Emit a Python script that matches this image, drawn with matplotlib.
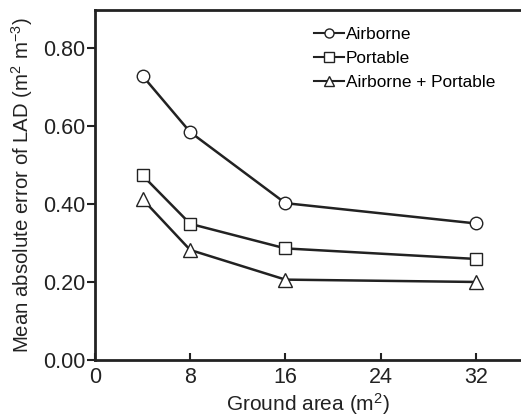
import matplotlib
matplotlib.use('Agg')
import matplotlib.pyplot as plt

plt.rcParams['font.family'] = ['Liberation Sans', 'DejaVu Sans']
plt.rcParams['mathtext.fontset'] = 'custom'
plt.rcParams['mathtext.rm'] = 'Liberation Sans'
plt.rcParams['mathtext.it'] = 'Liberation Sans:italic'

# data
ground_area = [4, 8, 16, 32]
airborne = [0.728, 0.584, 0.402, 0.350]
portable = [0.473, 0.349, 0.286, 0.259]
combined = [0.412, 0.282, 0.206, 0.200]
series_names = ['Airborne', 'Portable', 'Airborne + Portable']
x_ticks = [0, 8, 16, 24, 32]
y_ticks = [0.0, 0.2, 0.4, 0.6, 0.8]

fig = plt.figure(figsize=(5.21, 4.17), dpi=100)
ax = fig.add_axes([95 / 521, 57 / 417, 426 / 521, 350 / 417])

style = dict(color='#222222', lw=1.8, mfc='white', mec='#222222', mew=1.0, ms=9)
ax.plot(ground_area, airborne, marker='o', label=series_names[0], **style)
ax.plot(ground_area, portable, marker='s', label=series_names[1], **dict(style, ms=8))
ax.plot(ground_area, combined, marker='^', label=series_names[2], **dict(style, ms=10))

ax.set_xlim(0, 35.8)
ax.set_ylim(0, 0.897)
ax.set_xticks(x_ticks)
ax.set_yticks(y_ticks)
ax.set_yticklabels([f'{v:.2f}' for v in y_ticks])

for side in ['left', 'bottom', 'top']:
    ax.spines[side].set_linewidth(2)
    ax.spines[side].set_color('#222222')
ax.spines['right'].set_visible(False)

ax.tick_params(axis='x', direction='in', length=5, width=1.5, labelsize=15.5, pad=5, colors='#222222')
ax.tick_params(axis='y', direction='out', length=6, width=1.5, labelsize=15.5, pad=1, colors='#222222')

ax.set_xlabel('Ground area (m$^{2}$)', fontsize=15, color='#222222', labelpad=2)
ax.set_ylabel('Mean absolute error of LAD (m$^{2}$ m$^{-3}$)', fontsize=14.7, color='#222222', labelpad=6)

leg = ax.legend(loc='upper left', bbox_to_anchor=(314 / 521, 1 - 27 / 417), bbox_transform=fig.transFigure,
                frameon=False, fontsize=12.4, handlelength=1.75, handletextpad=0.1,
                labelspacing=0.52, borderpad=0, borderaxespad=0)
for h in leg.get_lines():
    h.set_linewidth(1.5)
    h.set_markersize(6.5)

fig.savefig('out.png', dpi=100)
